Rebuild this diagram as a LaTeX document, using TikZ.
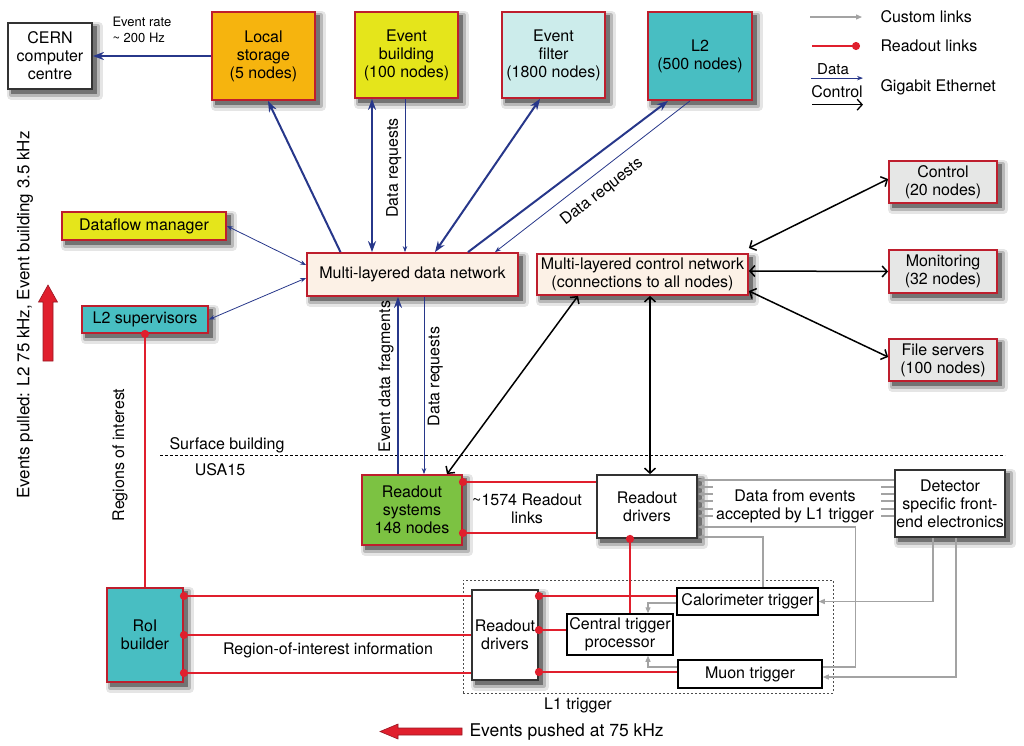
\documentclass[tikz,border=0pt]{standalone}
\usepackage{fontspec}
\setmainfont{TeX Gyre Heros}
\usetikzlibrary{arrows.meta,backgrounds}

\definecolor{boxred}{HTML}{BE1E2D}
\definecolor{storeorange}{HTML}{F6B40E}
\definecolor{ebyellow}{HTML}{E5E51B}
\definecolor{efcyan}{HTML}{CCECEB}
\definecolor{ltwoteal}{HTML}{48BEC2}
\definecolor{netpeach}{HTML}{FCF1E6}
\definecolor{svcgrey}{HTML}{E6E7E6}
\definecolor{rosgreen}{HTML}{7CC242}
\definecolor{dnavy}{HTML}{27378A}
\definecolor{linkred}{HTML}{E01F2D}
\definecolor{linkgrey}{HTML}{A3A3A3}

\tikzset{
  ubox/.style={draw=boxred, line width=1.8pt, align=center, inner sep=1pt},
  whitebox/.style={ubox, draw=black!80, fill=white},
  trig/.style={draw=black, line width=1.5pt, fill=white, align=center, inner sep=1pt},
  dthick/.style={dnavy, line width=2pt, >={Stealth[length=11pt,width=8pt]}},
  dthin/.style={dnavy, line width=0.8pt, >={Stealth[length=6pt,width=4.5pt]}},
  ctl/.style={black, line width=1.5pt, >={Straight Barb[length=5pt,width=11pt]}},
  rline/.style={linkred, line width=1.8pt},
  rlink/.style={rline, {Circle[length=8pt]}-, shorten <=-4pt},
  gstub/.style={linkgrey, line width=1.2pt},
  glink/.style={gstub, -{Triangle[length=6pt,width=5pt]}},
  bigarrow/.style={fill=linkred, draw=boxred!80!black, line width=0.6pt, line join=miter},
}

\begin{document}
\begin{tikzpicture}[x=1pt, y=-1pt, font=\fontsize{16}{18}\selectfont]
\useasboundingbox (0,0) rectangle (1024,745);

% L1 trigger area
\node[draw=black!70, dash pattern=on 2pt off 2pt, line width=1pt, minimum width=370pt, minimum height=113pt, inner sep=0pt] (lone) at (648,636.5) {};
\node[anchor=north] (lonelbl) at (578,694) {L1 trigger};

% boxes
\node[whitebox, minimum width=84pt, minimum height=66pt] (cern) at (50,56) {CERN\\computer\\centre};
\node[ubox, fill=storeorange, minimum width=103pt, minimum height=88pt] (store) at (263.5,56) {Local\\storage\\(5 nodes)};
\node[ubox, fill=ebyellow, minimum width=103pt, minimum height=86pt] (evb) at (406.5,55) {Event\\building\\(100 nodes)};
\node[ubox, fill=efcyan, minimum width=103pt, minimum height=86pt] (ef) at (553.5,55) {Event\\filter\\(1800 nodes)};
\node[ubox, fill=ltwoteal, minimum width=104pt, minimum height=88pt] (ltwo) at (700,56) {L2\\(500 nodes)};
\node[ubox, fill=ebyellow, minimum width=164pt, minimum height=28pt] (dfm) at (144,226) {Dataflow manager};
\node[ubox, fill=ltwoteal, minimum width=126pt, minimum height=27pt] (lsup) at (145,319.5) {L2 supervisors};
\node[ubox, fill=netpeach, minimum width=211pt, minimum height=43pt] (dnet) at (412.5,274.5) {Multi-layered data network};
\node[ubox, fill=netpeach, minimum width=211pt, minimum height=41pt] (cnet) at (642.5,274.5) {Multi-layered control network\\(connections to all nodes)};
\node[ubox, fill=svcgrey, minimum width=108pt, minimum height=42pt] (ctrl) at (943,182) {Control\\(20 nodes)};
\node[ubox, fill=svcgrey, minimum width=108pt, minimum height=43pt] (mon) at (943,271.5) {Monitoring\\(32 nodes)};
\node[ubox, fill=svcgrey, minimum width=108pt, minimum height=42pt] (fs) at (943,360) {File servers\\(100 nodes)};
\node[ubox, fill=rosgreen, minimum width=100pt, minimum height=70pt] (ros) at (412,510) {Readout\\systems\\148 nodes};
\node[whitebox, minimum width=100pt, minimum height=63pt] (rod) at (647,506.5) {Readout\\drivers};
\node[whitebox, minimum width=110pt, minimum height=67pt] (fee) at (950,503.5) {Detector\\specific front-\\end electronics};
\node[ubox, fill=ltwoteal, minimum width=76pt, minimum height=94pt] (roib) at (145,635) {RoI\\builder};
\node[whitebox, minimum width=66pt, minimum height=90pt] (rodl) at (505,635) {Readout\\drivers};
\node[trig, minimum width=106pt, minimum height=41pt] (ctp) at (620,634.5) {Central trigger\\processor};
\node[trig, minimum width=141pt, minimum height=27pt] (calo) at (747.5,601.5) {Calorimeter trigger};
\node[trig, minimum width=144pt, minimum height=28pt] (muon) at (750,674) {Muon trigger};

% soft shadows
\begin{scope}[on background layer]
\foreach \n in {cern,store,evb,ef,ltwo,dfm,lsup,dnet,cnet,ctrl,mon,fs,ros,rod,fee,roib,rodl} {
  \fill[black!10, rounded corners=4pt] ([xshift=0pt,yshift=-10pt]\n.south west) rectangle ([xshift=10pt,yshift=0pt]\n.north east);
  \fill[black!28, rounded corners=2pt] ([xshift=2pt,yshift=-7pt]\n.south west) rectangle ([xshift=7pt,yshift=-2pt]\n.north east);
  \fill[black!55] ([xshift=3.5pt,yshift=-4.5pt]\n.south west) rectangle ([xshift=4.5pt,yshift=-3.5pt]\n.north east);
}
\end{scope}

% surface / underground
\draw[dash pattern=on 2.5pt off 2.5pt, line width=1pt] (160,455) -- (1005,455);
\node (surflbl) at (227,445) {Surface building};
\node (usalbl) at (220,470) {USA15};

% Gigabit Ethernet, data
\draw[dthick,->] (store.west) -- (cern.east);
\node[anchor=west, align=left, font=\fontsize{13}{15.5}\selectfont] (ratelbl) at (109,30) {Event rate\\\textasciitilde{} 200 Hz};
\draw[dthick,->] ([xshift=-72pt]dnet.north) -- ([xshift=4.5pt]store.south);
\draw[dthick,<->] ([xshift=-34.5pt]evb.south) -- ([xshift=-34.5pt]evb.south |- dnet.north);
\draw[dthin,->] ([xshift=-1.5pt]evb.south) -- ([xshift=-1.5pt]evb.south |- dnet.north)
  node[pos=0.45, rotate=90, above, text=black] {Data requests};
\draw[dthick,<->] ([xshift=-13.5pt]ef.south) -- ([xshift=22.5pt]dnet.north);
\draw[dthick,->] ([xshift=55.5pt]dnet.north) -- ([xshift=-32pt]ltwo.south);
\draw[dthin,<-] ([xshift=82.5pt]dnet.north) -- ([xshift=-10pt]ltwo.south);
\node[rotate=38] (dreqlbl) at (602,192) {Data requests};
\draw[dthin,<->] (dfm.east) -- ([yshift=9.5pt]dnet.west);
\draw[dthin,<->] (lsup.east) -- ([yshift=-3.5pt]dnet.west);
\draw[dthick,->] ([xshift=-14pt]ros.north) -- ([xshift=-14pt]ros.north |- dnet.south)
  node[pos=0.55, rotate=90, above, text=black] {Event data fragments};
\draw[dthin,->] ([xshift=12pt]ros.north |- dnet.south) -- ([xshift=12pt]ros.north)
  node[pos=0.45, rotate=90, below, text=black] {Data requests};

% Gigabit Ethernet, control
\draw[ctl,<->] ([xshift=-64.5pt]cnet.south) -- ([xshift=35pt]ros.north);
\draw[ctl,<->] ([xshift=3pt]rod.north |- cnet.south) -- ([xshift=3pt]rod.north);
\draw[ctl,<->] ([yshift=26.5pt]cnet.east) -- ([yshift=3pt]ctrl.west);
\draw[ctl,<->] ([yshift=3.5pt]cnet.east) -- (mon.west);
\draw[ctl,<->] ([yshift=-16.5pt]cnet.east) -- ([yshift=3pt]fs.west);

% readout links
\draw[rlink] ([yshift=28pt]ros.east) -- ([yshift=28pt]ros.east -| rod.west);
\draw[rlink] ([yshift=-23pt]ros.east) -- ([yshift=-23pt]ros.east -| rod.west);
\node[align=center] (rolinks) at (527,509) {\textasciitilde1574 Readout\\links};
\draw[rlink] (lsup.south) -- (roib.north);
\node[rotate=90] (regintlbl) at (120,455) {Regions of interest};
\draw[rlink] ([xshift=-17pt]rod.south) -- ([xshift=-17pt]rod.south |- ctp.north);
\foreach \dy in {39,0,-38}
  \draw[rlink] ([yshift=\dy pt]roib.east) -- ([yshift=\dy pt]roib.east -| rodl.west);
\node (roiinfo) at (328,650) {Region-of-interest information};
\draw[rlink] ([yshift=39pt]rodl.east) -- ([yshift=39pt]rodl.east -| calo.west);
\draw[rlink] ([yshift=5pt]rodl.east) -- ([yshift=5pt]rodl.east -| ctp.west);
\draw[rlink] ([yshift=-37pt]rodl.east) -- ([yshift=-37pt]rodl.east -| muon.west);

% custom links
\draw[glink] ([yshift=23.5pt]fee.west) -- ([yshift=23.5pt]fee.west -| rod.east);
\foreach \dy in {19.5,12.5,5.5,-2.5,-9.5} {
  \draw[glink] ([xshift=15pt,yshift=\dy pt]rod.east) -- ([yshift=\dy pt]rod.east);
  \draw[gstub] ([yshift=\dy pt]rod.east -| fee.west) -- ++(-13,0);
}
\node[align=center] (l1data) at (795,506) {Data from events\\accepted by L1 trigger};
\draw[glink] ([yshift=7pt]muon.east) -- ++(33,0) |- ([yshift=-20.5pt]rod.east);
\draw[glink] ([xshift=15.5pt]calo.north) |- ([yshift=-30.5pt]rod.east);
\draw[glink] ([xshift=-17pt]fee.south) |- (calo.east);
\draw[glink] ([xshift=6pt]fee.south) |- ([yshift=-3pt]muon.east);
\draw[glink] ([yshift=-1.5pt]calo.west) -| ([xshift=28pt]ctp.north);
\draw[glink] ([yshift=7pt]muon.west) -| ([xshift=28pt]ctp.south);

% rates
\node[rotate=90, font=\fontsize{17}{20}\selectfont] (pulledlbl) at (25,315) {Events pulled: L2 75 kHz, Event building 3.5 kHz};
\filldraw[bigarrow] (43,361) -- (43,302) -- (38.5,302) -- (48,285) -- (57.5,302) -- (53,302) -- (53,361) -- cycle;
\filldraw[bigarrow] (462,728) -- (398,728) -- (398,724) -- (380,731.5) -- (398,739) -- (398,735) -- (462,735) -- cycle;
\node[anchor=west, font=\fontsize{17.5}{20}\selectfont] (pushedlbl) at (466,732) {Events pushed at 75 kHz};

% legend
\node[anchor=west] (lgcustom) at (877,17) {Custom links};
\draw[glink] ([xshift=-67pt]lgcustom.west) -- ([xshift=-15pt]lgcustom.west);
\node[anchor=west] (lgreadout) at (877,46) {Readout links};
\draw[rline, -{Circle[length=8pt]}, shorten >=-4pt] ([xshift=-65pt]lgreadout.west) -- ([xshift=-21pt]lgreadout.west);
\node[font=\fontsize{15}{17}\selectfont] (lgdata) at (833,69) {Data};
\draw[dthin, line width=1.2pt, ->] ([xshift=-22pt]lgdata.south) -- ([xshift=30pt]lgdata.south);
\node (lgctl) at (837,92) {Control};
\draw[ctl, line width=1.3pt, ->] ([xshift=-25pt,yshift=-3pt]lgctl.south) -- ([xshift=26pt,yshift=-3pt]lgctl.south);
\node[anchor=west] (lggbe) at (877,87) {Gigabit Ethernet};
\end{tikzpicture}
\end{document}
